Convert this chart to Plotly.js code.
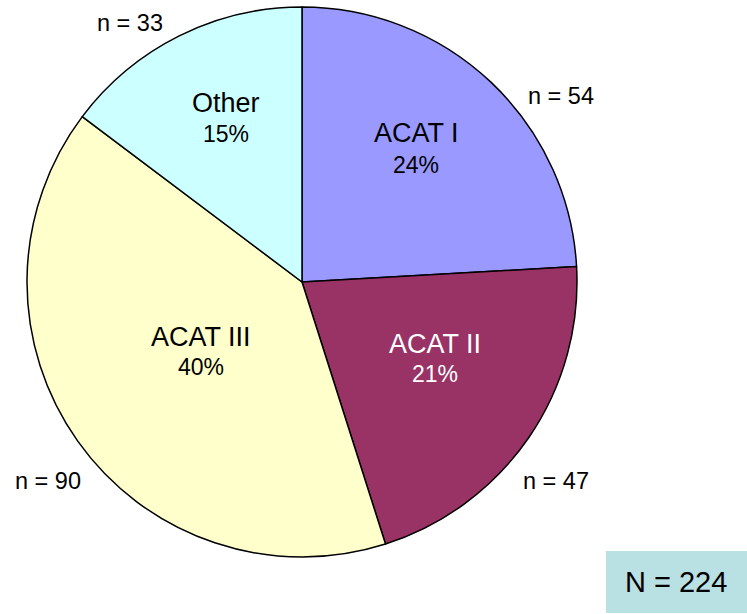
<!DOCTYPE html>
<html>
<head>
<meta charset="utf-8">
<script src="https://cdn.plot.ly/plotly-3.0.1.min.js"></script>
<style>html,body{margin:0;padding:0;background:#fff;}#chart{width:747px;height:614px;}</style>
</head>
<body>
<div id="chart"></div>
<script>
var categories = ["ACAT I", "ACAT II", "ACAT III", "Other"];
var counts = [54, 47, 90, 33];
var sliceColors = ["#9999FF", "#993366", "#FFFFCC", "#CCFFFF"];
var textColors = ["#000000", "#FFFFFF", "#000000", "#000000"];
var countLabels = counts.map(function (c) { return "n = " + c; });
var total = counts.reduce(function (a, b) { return a + b; }, 0);
var percentLabels = counts.map(function (c) { return Math.round(100 * c / total) + "%"; });
var totalLabel = "N = " + total;

var W = 747, H = 614;
function px(x) { return x / W; }
function py(y) { return 1 - y / H; }

var FONT = "Liberation Sans, Arial, sans-serif";

var trace = {
  type: "pie",
  labels: categories,
  values: counts,
  sort: false,
  direction: "clockwise",
  rotation: 0,
  marker: { colors: sliceColors, line: { color: "#000000", width: 1.5 } },
  textinfo: "none",
  hoverinfo: "label+value+percent",
  showlegend: false,
  domain: { x: [px(27), px(577)], y: [py(557), py(7)] }
};

// label placement (pixel centres): [x, nameY, percentY]
var insidePos = [[416, 133, 165], [435, 344, 374], [201, 337, 367], [226, 103, 134]];
var countPos = [[561, 96], [556, 481], [48, 481], [130, 23]];

var annotations = [];
categories.forEach(function (name, i) {
  annotations.push({
    text: name, xref: "paper", yref: "paper",
    x: px(insidePos[i][0]), y: py(insidePos[i][1]),
    xanchor: "center", yanchor: "middle", showarrow: false,
    font: { family: FONT, size: 27, color: textColors[i] }
  });
  annotations.push({
    text: percentLabels[i], xref: "paper", yref: "paper",
    x: px(insidePos[i][0]), y: py(insidePos[i][2]),
    xanchor: "center", yanchor: "middle", showarrow: false,
    font: { family: FONT, size: 23, color: textColors[i] }
  });
  annotations.push({
    text: countLabels[i], xref: "paper", yref: "paper",
    x: px(countPos[i][0]), y: py(countPos[i][1]),
    xanchor: "center", yanchor: "middle", showarrow: false,
    font: { family: FONT, size: 23.5, color: "#000000" }
  });
});
annotations.push({
  text: totalLabel, xref: "paper", yref: "paper",
  x: px(676), y: py(582), xanchor: "center", yanchor: "middle",
  showarrow: false, font: { family: FONT, size: 29, color: "#000000" }
});

var layout = {
  width: W, height: H,
  margin: { l: 0, r: 0, t: 0, b: 0 },
  paper_bgcolor: "#FFFFFF",
  plot_bgcolor: "#FFFFFF",
  shapes: [{
    type: "rect", xref: "paper", yref: "paper",
    x0: px(606), x1: px(747), y0: py(613), y1: py(551),
    fillcolor: "#B9E0E3", line: { width: 0 }, layer: "below"
  }],
  annotations: annotations
};

Plotly.newPlot("chart", [trace], layout, { displayModeBar: false, staticPlot: true });
</script>
</body>
</html>
